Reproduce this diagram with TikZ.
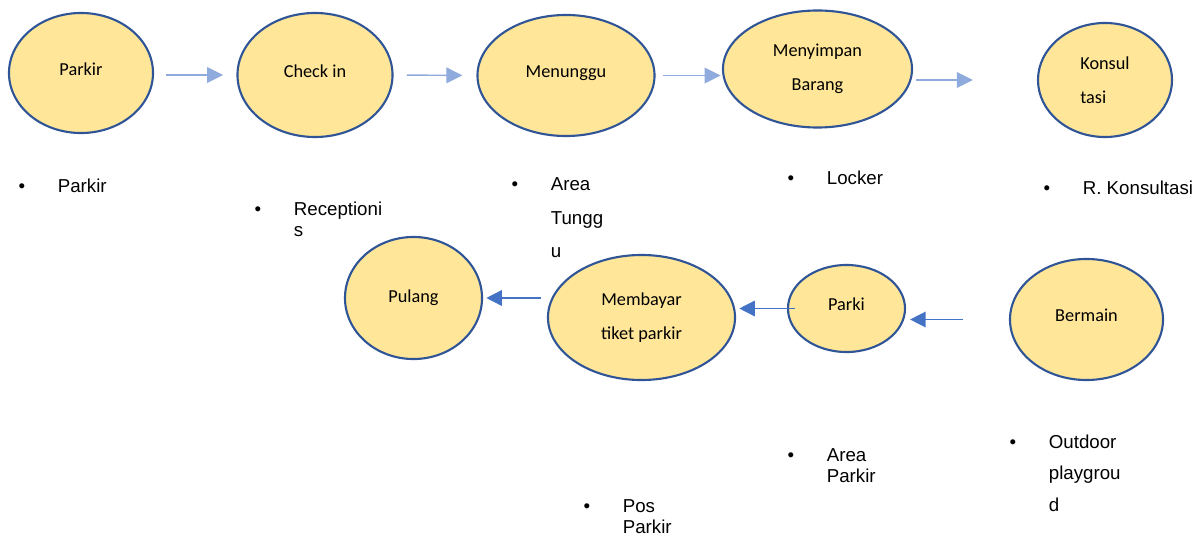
\documentclass[tikz,border=0pt]{standalone}
\usepackage{fontspec}
\setmainfont{Carlito}
\newfontfamily\listfont{Liberation Sans}
\usetikzlibrary{positioning}
\usetikzlibrary{shapes.geometric}
\usetikzlibrary{arrows.meta}
\definecolor{stagefill}{HTML}{FFE699}
\definecolor{stageline}{HTML}{2F5597}
\definecolor{lightarrow}{HTML}{8FAADC}
\definecolor{darkarrow}{HTML}{4472C4}
\newcommand{\itemlines}[1]{\begin{tabular}[t]{@{}l@{}}#1\end{tabular}}
\tikzset{
	stage/.style={ellipse, draw=stageline, fill=stagefill, line width=1.5pt, inner sep=0pt, align=center, font=\fontsize{13}{24}\selectfont},
	lifted/.style={text height=9pt, text depth=6pt},
	flowlight/.style={draw=lightarrow, line width=1pt, -{Triangle[length=0.4cm,width=0.39cm]}},
	flowdark/.style={draw=darkarrow, line width=1pt, -{Triangle[length=0.39cm,width=0.39cm]}},
	bul/.style={inner sep=0pt, anchor=base, font=\listfont\fontsize{13.3}{15.6}\selectfont},
	item/.style={inner sep=0pt, font=\listfont\fontsize{13.3}{15.6}\selectfont},
}

\begin{document}
\begin{tikzpicture}[x=0.025cm, y=-0.025cm]
	\useasboundingbox (0,0) rectangle (1202,538);
	% Top row
	\node [stage, lifted, minimum width=3.6cm, minimum height=3cm] (parkir) at (81,73) {Parkir};
	\node [stage, lifted, minimum width=3.875cm, minimum height=3.1cm] (checkin) at (315,75) {Check in};
	\node [stage, lifted, minimum width=4.425cm, minimum height=3.025cm] (menunggu) at (566,75.5) {Menunggu};
	\node [stage, minimum width=4.725cm, minimum height=2.925cm] (menyimpan) at (817.5,69) {Menyimpan\\Barang};
	\node [stage, minimum width=3.35cm, minimum height=2.85cm, align=left] (konsul) at (1105,80) {Konsul\\tasi};
	% Bottom row
	\node [stage, minimum width=3.425cm, minimum height=3.05cm] (pulang) at (413.5,298) {Pulang};
	\node [stage, minimum width=4.675cm, minimum height=3.125cm] (membayar) at (641.5,317.5) {Membayar\\tiket parkir};
	\node [stage, lifted, minimum width=2.925cm, minimum height=2.175cm] (parki) at (846.5,308.5) {Parki};
	\node [stage, lifted, minimum width=3.825cm, minimum height=3.025cm] (bermain) at (1086.5,319.5) {Bermain};
	
	% Bullets, top row
	\node [bul] (b1) at (22,192) {•};
	\node [item, base right=0.8cm of b1] (t1) {Parkir};
	\node [bul] (b2) at (258,215) {•};
	\node [item, base right=0.8cm of b2] (t2) {\itemlines{Receptioni\\s}};
	\node [bul] (b3) at (515,191) {•};
	\node [item, base right=0.8cm of b3] (t3) {\itemlines{Area\\[8pt]Tungg\\[8pt]u}};
	\node [bul] (b4) at (791,184) {•};
	\node [item, base right=0.8cm of b4] (t4) {Locker};
	\node [bul] (b5) at (1047,195) {•};
	\node [item, base right=0.8cm of b5] (t5) {R. Konsultasi};
	% Bullets, bottom row
	\node [bul] (b6) at (587,512) {•};
	\node [item, base right=0.8cm of b6] (t6) {\itemlines{Pos\\Parkir}};
	\node [bul] (b7) at (791,461) {•};
	\node [item, base right=0.8cm of b7] (t7) {\itemlines{Area\\Parkir}};
	\node [bul] (b8) at (1013,448) {•};
	\node [item, base right=0.8cm of b8] (t8) {\itemlines{Outdoor\\[7pt]playgrou\\[7pt]d}};
	
	% Arrows
	\draw [flowlight, shorten <=0.3cm, shorten >=0.33cm] (checkin.west -| parkir.east) -- (checkin.west);
	\draw [flowlight, shorten <=0.33cm, shorten >=0.35cm] (checkin.east) -- (menunggu.west);
	\draw [flowlight, shorten <=0.18cm, shorten >=0.03cm] (menunggu.east) -- (menunggu.east -| menyimpan.west);
	\draw [flowlight, shorten <=0.08cm, shorten >=1.6cm] (konsul.west -| menyimpan.east) -- (konsul.west);
	\draw [flowdark, shorten <=-0.2cm, shorten >=0.08cm] (parki.west) -- (parki.west -| membayar.east);
	\draw [flowdark, shorten <=1.15cm, shorten >=0.1cm] (bermain.west) -- (bermain.west -| parki.east);
	\draw [flowdark, shorten <=0.15cm, shorten >=0.08cm] (membayar.west |- pulang.east) -- (pulang.east);
\end{tikzpicture}
\end{document}
